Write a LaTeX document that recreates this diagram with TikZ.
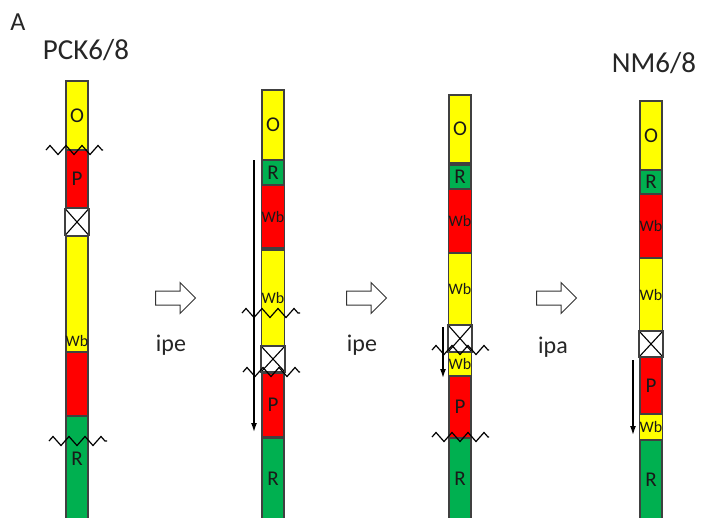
\documentclass[tikz,border=0pt]{standalone}
\usepackage{fontspec}
\setmainfont{Carlito}
\usetikzlibrary{arrows.meta,shapes.arrows,decorations.pathmorphing}
\definecolor{bandyellow}{RGB}{255,255,0}
\definecolor{bandred}{RGB}{255,0,0}
\definecolor{bandgreen}{RGB}{0,176,80}

\begin{document}
\begin{tikzpicture}[x=1pt, y=-1pt,
    band/.style={rectangle, draw=black!75, line width=1.2pt, minimum width=22pt, inner sep=0pt, text=black!90, font=\fontsize{21}{21}\selectfont},
    yband/.style={band, fill=bandyellow},
    rband/.style={band, fill=bandred},
    gband/.style={band, fill=bandgreen},
    xband/.style={band, fill=white, minimum width=24pt, path picture={\draw[black, line width=1.1pt] (path picture bounding box.north west) -- (path picture bounding box.south east) (path picture bounding box.north east) -- (path picture bounding box.south west);}},
    wbtext/.style={font=\fontsize{16}{16}\selectfont},
    title/.style={inner sep=0pt, text=black!85, font=\fontsize{29}{29}\selectfont},
    breakline/.style={decorate, decoration={zigzag, segment length=16pt, amplitude=4.5pt}, line width=1.2pt},
    move/.style={-{Latex[length=9pt,width=6pt]}, line width=1.4pt},
    blockarrow/.style={single arrow, draw=black!80, fill=white, line width=1pt, inner sep=6.5pt, minimum height=40pt, single arrow head extend=8.5pt},
    steplabel/.style={inner sep=0pt, text=black!85, font=\fontsize{24}{24}\selectfont}
]
    \useasboundingbox (0,0) rectangle (701,517);

    % Titles
    \node[title, font=\fontsize{26}{26}\selectfont] (panel) at (18,22) {A};
    \node[title] (src) at (86,50) {PCK6/8};
    \node[title] (dst) at (654,63) {NM6/8};

    % PCK6/8 chromosome
    \node[yband, minimum height=69] (c1o) at (77,115.5) {O};
    \node[rband, minimum height=58] (c1p) at (77,179) {P};
    \node[xband, minimum height=27] (c1x) at (77,222) {};
    \node[yband, minimum height=116] (c1wy) at (77,294) {};
    \node[band, draw=none, wbtext] (c1wyl) at (77,341) {Wb};
    \node[rband, minimum height=64] (c1wr) at (77,384) {};
    \node[gband, minimum height=104] (c1r) at (77,468) {};
    \node[band, draw=none] (c1rl) at (77,459) {R};
    \draw[breakline] (46,150) -- (103,150);
    \draw[breakline] (49,441) -- (107,441);

    % first step
    \node[blockarrow] (s1) at (172,298) {};
    \node[steplabel] (s1l) at (171,345) {ipe};

    % second chromosome
    \node[yband, minimum height=70] (c2o) at (273,125) {O};
    \node[gband, minimum height=25] (c2r) at (273,172.5) {R};
    \node[rband, wbtext, minimum height=63] (c2wr) at (273,216.5) {Wb};
    \node[yband, wbtext, minimum height=96] (c2wy) at (273,298) {Wb};
    \node[xband, minimum height=26] (c2x) at (273,359) {};
    \node[rband, minimum height=64] (c2p) at (273,405) {P};
    \node[gband, minimum height=82] (c2rr) at (273,479) {R};
    \draw[breakline] (242,313) -- (300,313);
    \draw[breakline] (243,372) -- (300,372);
    \coordinate (c2from) at (254,160);
    \coordinate (c2to) at (254,432);
    \draw[move] (c2from) -- (c2to);

    % second step
    \node[blockarrow] (s2) at (363,298) {};
    \node[steplabel] (s2l) at (362,345) {ipe};

    % third chromosome
    \node[yband, minimum height=68] (c3o) at (460,129) {O};
    \node[gband, minimum height=24] (c3r) at (460,177) {R};
    \node[rband, wbtext, minimum height=64] (c3wr) at (460,221) {Wb};
    \node[yband, wbtext, minimum height=72] (c3wy) at (460,289) {Wb};
    \node[xband, minimum height=27] (c3x) at (460,338.5) {};
    \node[yband, wbtext, minimum height=24] (c3ws) at (460,364) {Wb};
    \node[rband, minimum height=62] (c3p) at (460,407) {P};
    \node[gband, minimum height=82] (c3rr) at (460,479) {R};
    \draw[breakline] (432,350) -- (489,350);
    \draw[breakline] (432,437) -- (489,437);
    \coordinate (c3from) at (443,327);
    \coordinate (c3to) at (443,378);
    \draw[move] (c3from) -- (c3to);

    % third step
    \node[blockarrow] (s3) at (553,298) {};
    \node[steplabel] (s3l) at (553,347) {ipa};

    % NM6/8 chromosome
    \node[yband, minimum height=69] (c4o) at (651,135.5) {O};
    \node[gband, minimum height=24] (c4r) at (651,182) {R};
    \node[rband, wbtext, minimum height=64] (c4wr) at (651,226) {Wb};
    \node[yband, wbtext, minimum height=73] (c4wy) at (651,294.5) {Wb};
    \node[xband, minimum height=26] (c4x) at (651,344) {};
    \node[rband, minimum height=57] (c4p) at (651,385.5) {P};
    \node[yband, wbtext, minimum height=26] (c4ws) at (651,427) {Wb};
    \node[gband, minimum height=80] (c4rr) at (651,480) {R};
    \coordinate (c4from) at (633,360);
    \coordinate (c4to) at (633,435);
    \draw[move] (c4from) -- (c4to);
\end{tikzpicture}
\end{document}
